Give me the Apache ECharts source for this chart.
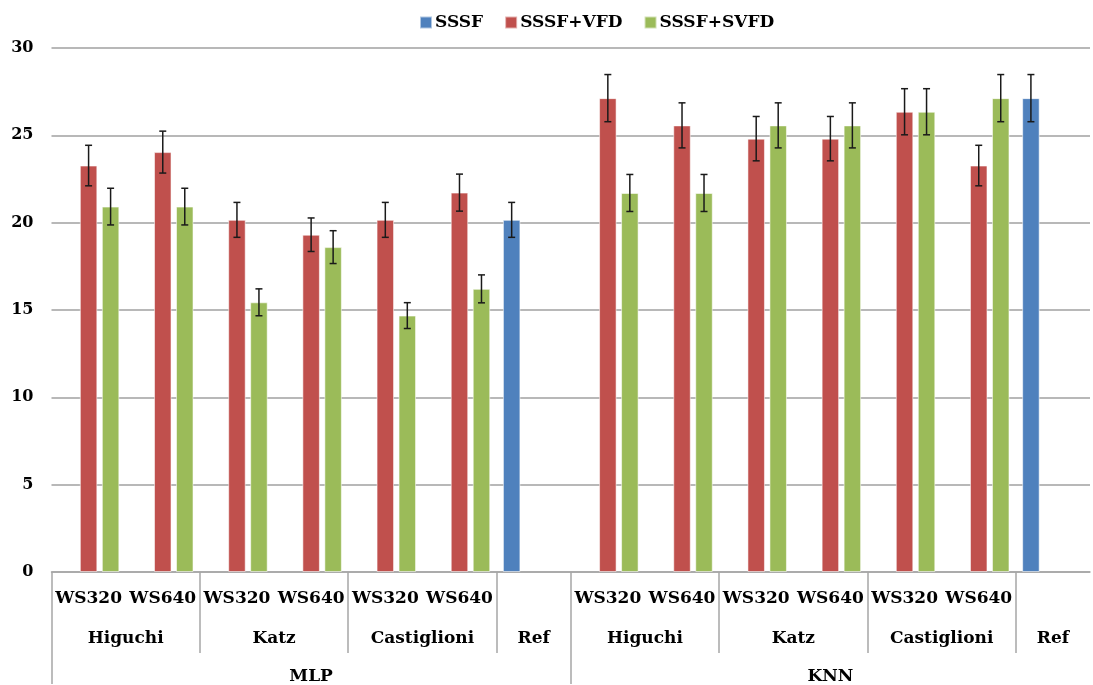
<!DOCTYPE html>
<html>
<head>
<meta charset="utf-8">
<script src="https://cdn.jsdelivr.net/npm/echarts@6/dist/echarts.min.js"></script>
<style>
html,body{margin:0;padding:0;background:#fff;overflow:hidden;}
#chart{width:1093px;height:685px;}
</style>
</head>
<body>
<div id="chart"></div>
<script>
// ---- data ----
const windowLabels = ['WS320','WS640','WS320','WS640','WS320','WS640','',
                      'WS320','WS640','WS320','WS640','WS320','WS640',''];
const methodLabels = ['Higuchi','Katz','Castiglioni','Ref','Higuchi','Katz','Castiglioni','Ref'];
const methodSpans  = [2,2,2,1,2,2,2,1];
const classifierLabels = ['MLP','KNN'];
const classifierSpans  = [7,7];
const seriesNames = ['SSSF','SSSF+VFD','SSSF+SVFD'];

const sssf     = [null,null,null,null,null,null,20.16, null,null,null,null,null,null,27.13];
const sssfVfd  = [23.27,24.04,20.16,19.31,20.16,21.72,null, 27.13,25.57,24.81,24.81,26.35,23.27,null];
const sssfSvfd = [20.92,20.92,15.44,18.60,14.68,16.21,null, 21.70,21.70,25.57,25.57,26.35,27.13,null];

const sssfErr     = [null,null,null,null,null,null,1.00, null,null,null,null,null,null,1.35];
const sssfVfdErr  = [1.16,1.20,1.00,0.96,1.00,1.06,null, 1.35,1.29,1.27,1.27,1.32,1.16,null];
const sssfSvfdErr = [1.05,1.05,0.77,0.94,0.74,0.80,null, 1.06,1.06,1.29,1.29,1.32,1.35,null];

const yTicks = {min:0, max:30, interval:5};

// ---- build ----
const FONT = 'DejaVu Serif';
const colors = ['#4F81BD','#C0504D','#9BBB59'];
const BAR_W = 17.5, GAP = 4.5, SLOT = BAR_W + GAP;
const divColor = '#a6a6a6';
const N = windowLabels.length;

// half-category point axes (boundaryGap false, 2N+1 points)
function spanPoints(labels, spans) {
  const pts = [];
  for (let i = 0; i <= N * 2; i++) pts.push('');
  const bounds = [];
  let pos = 0;
  labels.forEach((m, k) => {
    bounds.push(pos * 2);
    pts[Math.round((pos + spans[k] / 2) * 2)] = m;
    pos += spans[k];
  });
  return {pts, bounds};
}
const method = spanPoints(methodLabels, methodSpans);
const classifier = spanPoints(classifierLabels, classifierSpans);

function errData(vals, errs) {
  const out = [];
  vals.forEach((v, i) => { if (v != null && errs[i] != null) out.push([i, v, errs[i]]); });
  return out;
}
function errRender(slot) {
  return function (params, api) {
    const i = api.value(0), v = api.value(1), e = api.value(2);
    const hi = api.coord([i, v + e]);
    const lo = api.coord([i, v - e]);
    const x = hi[0] + slot * SLOT;
    const cap = 3.5;
    const style = {stroke: '#1a1a1a', lineWidth: 1.5};
    return {
      type: 'group',
      children: [
        {type: 'line', shape: {x1: x, y1: hi[1], x2: x, y2: lo[1]}, style},
        {type: 'line', shape: {x1: x - cap, y1: hi[1], x2: x + cap, y2: hi[1]}, style},
        {type: 'line', shape: {x1: x - cap, y1: lo[1], x2: x + cap, y2: lo[1]}, style}
      ]
    };
  };
}

const labelFont = {fontFamily: FONT, fontWeight: 'bold', fontSize: 17, color: '#000'};
const barData = [sssf, sssfVfd, sssfSvfd];
const errs = [sssfErr, sssfVfdErr, sssfSvfdErr];

const series = [];
seriesNames.forEach((n, k) => {
  series.push({
    name: n, type: 'bar', xAxisIndex: 0, yAxisIndex: 0,
    data: barData[k], barWidth: BAR_W, barGap: (GAP / BAR_W * 100).toFixed(1) + '%',
    itemStyle: {color: colors[k], borderColor: 'rgba(255,255,255,0.55)', borderWidth: 1},
    z: 2
  });
});
seriesNames.forEach((n, k) => {
  series.push({
    name: n + ' error', type: 'custom', xAxisIndex: 0, yAxisIndex: 0,
    data: errData(barData[k], errs[k]),
    encode: {x: 0, y: 1},
    renderItem: errRender(k - 1),
    z: 5, silent: true
  });
});

const chart = echarts.init(document.getElementById('chart'), null, {renderer: 'canvas'});
chart.setOption({
  animation: false,
  backgroundColor: '#fff',
  legend: {
    data: seriesNames, top: 9, left: 414,
    icon: 'rect', itemWidth: 12, itemHeight: 12, itemGap: 21,
    textStyle: {fontFamily: FONT, fontWeight: 'bold', fontSize: 17, color: '#000', padding: [0, 0, 0, -2]}
  },
  grid: {left: 51.5, width: 1048.5, top: 48, height: 527},
  xAxis: [
    {
      type: 'category', data: windowLabels, gridIndex: 0, position: 'bottom',
      axisLine: {show: true, onZero: false, lineStyle: {color: divColor, width: 1.5}},
      axisTick: {show: false},
      axisLabel: Object.assign({interval: 0, margin: 18}, labelFont),
      splitLine: {show: false}
    },
    {
      type: 'category', data: method.pts, gridIndex: 0, boundaryGap: false, position: 'bottom',
      axisLine: {show: false, onZero: false},
      axisTick: {show: true, length: 81, lineStyle: {color: divColor, width: 1.5},
                 interval: (idx) => method.bounds.indexOf(idx) >= 0},
      axisLabel: Object.assign({interval: 0, margin: 58, showMinLabel: true, showMaxLabel: true}, labelFont),
      splitLine: {show: false}
    },
    {
      type: 'category', data: classifier.pts, gridIndex: 0, boundaryGap: false, position: 'bottom',
      axisLine: {show: false, onZero: false},
      axisTick: {show: true, length: 112, lineStyle: {color: divColor, width: 1.5},
                 interval: (idx) => classifier.bounds.indexOf(idx) >= 0},
      axisLabel: Object.assign({interval: 0, margin: 96, showMinLabel: true, showMaxLabel: true}, labelFont),
      splitLine: {show: false}
    }
  ],
  yAxis: {
    type: 'value', min: yTicks.min, max: yTicks.max, interval: yTicks.interval,
    axisLine: {show: false}, axisTick: {show: false},
    axisLabel: Object.assign({margin: 18}, labelFont, {fontSize: 16}),
    splitLine: {show: true, lineStyle: {color: '#a0a0a0', width: 1.5}}
  },
  series: series
});
</script>
</body>
</html>
